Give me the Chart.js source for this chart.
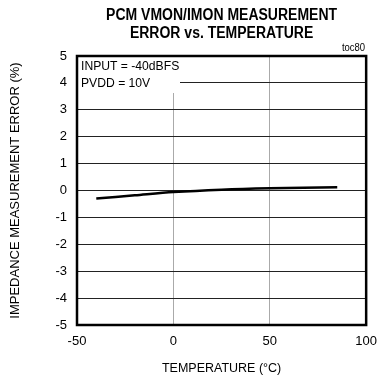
<!DOCTYPE html>
<html>
<head>
<meta charset="utf-8">
<script src="https://cdn.jsdelivr.net/npm/chart.js@4"></script>
<style>
  html, body { margin: 0; padding: 0; background: #fff; }
  #wrap { width: 386px; height: 377px; }
</style>
</head>
<body>
<div id="wrap"><canvas id="c"></canvas></div>
<script>
// valeurs
const temperatures = [-40, -20, 0, 25, 50, 85];
const errors = [-0.3, -0.18, -0.06, 0.03, 0.08, 0.12];
const xTicks = [-50, 0, 50, 100];
const yTicks = [5, 4, 3, 2, 1, 0, -1, -2, -3, -4, -5];
const titleLines = ['PCM VMON/IMON MEASUREMENT', 'ERROR vs. TEMPERATURE'];
const noteLines = ['INPUT = -40dBFS', 'PVDD = 10V'];

const FONT = '"Liberation Sans", Arial, sans-serif';

// texte un peu resserré comme l'original (police étroite)
function narrowText(ctx, txt, x, y, sx) {
  ctx.save();
  ctx.translate(x, y);
  ctx.scale(sx, 1);
  ctx.fillText(txt, 0, 0);
  ctx.restore();
}

const decor = {
  id: 'decor',
  beforeDatasetsDraw(chart) {
    const { ctx, chartArea } = chart;
    ctx.save();
    ctx.fillStyle = '#fff';
    ctx.fillRect(chartArea.left + 1, chartArea.top + 1, 102, 36);
    ctx.restore();
  },
  afterDraw(chart) {
    const { ctx, chartArea } = chart;
    ctx.save();
    ctx.strokeStyle = '#000';
    ctx.lineWidth = 2.5;
    ctx.strokeRect(chartArea.left, chartArea.top, chartArea.right - chartArea.left, chartArea.bottom - chartArea.top);

    ctx.fillStyle = '#000';
    ctx.textAlign = 'center';
    ctx.textBaseline = 'middle';
    ctx.font = 'bold 16px ' + FONT;
    const cx = (chartArea.left + chartArea.right) / 2;
    narrowText(ctx, titleLines[0], cx, 16, 0.875);
    narrowText(ctx, titleLines[1], cx, 34, 0.875);

    ctx.font = '10px ' + FONT;
    ctx.textAlign = 'right';
    narrowText(ctx, 'toc80', chartArea.right - 1, 48, 0.95);

    ctx.font = '13.5px ' + FONT;
    ctx.textAlign = 'left';
    narrowText(ctx, noteLines[0], chartArea.left + 4, 66, 0.9);
    narrowText(ctx, noteLines[1], chartArea.left + 4, 83, 0.9);
    ctx.restore();
  }
};

new Chart(document.getElementById('c'), {
  type: 'line',
  data: {
    datasets: [{
      data: temperatures.map((t, i) => ({ x: t, y: errors[i] })),
      borderColor: '#000',
      borderWidth: 2.5,
      pointRadius: 0,
      tension: 0.3,
      fill: false
    }]
  },
  options: {
    responsive: true,
    maintainAspectRatio: false,
    animation: false,
    layout: { padding: { top: 56, right: 10, left: 0, bottom: 0 } },
    plugins: { legend: { display: false }, tooltip: { enabled: false } },
    scales: {
      x: {
        type: 'linear',
        min: -50,
        max: 100,
        afterBuildTicks: s => { s.ticks = xTicks.map(v => ({ value: v })); },
        afterFit: s => { s.height = 52; },
        grid: { color: '#aaa', lineWidth: 1, drawTicks: false },
        border: { display: false },
        ticks: { color: '#000', font: { family: FONT, size: 13 }, padding: 9 },
        title: { display: true, text: 'TEMPERATURE (°C)', color: '#000', font: { family: FONT, size: 12.5 }, padding: { top: 0, bottom: 1 } }
      },
      y: {
        min: -5,
        max: 5,
        afterBuildTicks: s => { s.ticks = yTicks.map(v => ({ value: v })); },
        afterFit: s => { s.width = 77; },
        grid: { color: '#222', lineWidth: 1, drawTicks: false },
        border: { display: false },
        ticks: { color: '#000', font: { family: FONT, size: 13 }, padding: 10 },
        title: { display: true, text: 'IMPEDANCE MEASUREMENT ERROR (%)', color: '#000', font: { family: FONT, size: 13 }, padding: { top: 8, bottom: 0 } }
      }
    }
  },
  plugins: [decor]
});
</script>
</body>
</html>
